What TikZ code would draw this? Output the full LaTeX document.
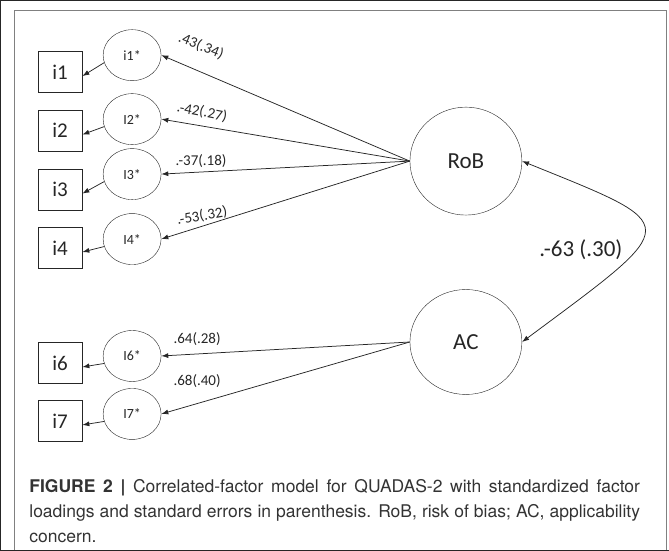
\documentclass[tikz,border=0pt]{standalone}
\usepackage{fontspec}
\setmainfont{Carlito}
\newfontfamily\capfont{TeX Gyre Heros}
\usetikzlibrary{arrows.meta,shapes.geometric}

\begin{document}
\begin{tikzpicture}[x=1pt,y=-1pt,
    item/.style={draw,minimum width=44pt,minimum height=41pt,inner sep=0pt,
      font=\fontsize{21}{21}\selectfont},
    resid/.style={draw,ellipse,minimum width=58pt,minimum height=51pt,inner sep=0pt,
      font=\fontsize{14}{14}\selectfont},
    factor/.style={draw,ellipse,minimum width=112pt,minimum height=108pt,inner sep=0pt,
      font=\fontsize{23}{23}\selectfont},
    load/.style={inner sep=0pt,font=\fontsize{15}{15}\selectfont},
    arr/.style={-{Latex[length=7pt,width=5pt]},line width=0.75pt},
    every node/.style={text=black!85},
    every path/.style={draw=black!85}
  ]
  \useasboundingbox (0,0) rectangle (669,550);
  \draw[black!50,line width=1pt] (14,550) -- (14,10) -- (667,10) -- (667,550);

  \node[factor] (rob) at (466,161) {RoB};
  \node[factor,minimum height=105pt] (ac) at (466,342) {AC};

  \node[resid] (e1) at (132,55) {i1*};
  \node[resid] (e2) at (132,119) {I2*};
  \node[resid] (e3) at (132,174) {I3*};
  \node[resid] (e4) at (132,239) {I4*};
  \node[resid] (e6) at (132,356) {I6*};
  \node[resid] (e7) at (132,414) {I7*};

  \node[item] (b1) at (60,72) {i1};
  \node[item] (b2) at (60,130.5) {i2};
  \node[item] (b3) at (60,189.5) {i3};
  \node[item] (b4) at (60,248) {i4};
  \node[item] (b6) at (60,363) {i6};
  \node[item] (b7) at (60,421) {i7};

  \foreach \n in {1,2,3,4,6,7}
    \draw[arr] (e\n.195) -- ([yshift=-4pt]b\n.east);
  \foreach \n in {1,2,3,4}
    \draw[arr] (rob.west) -- (e\n.east);
  \foreach \n in {6,7}
    \draw[arr] (ac.west) -- (e\n.east);
  \draw[{Latex[length=7pt,width=5pt]}-{Latex[length=7pt,width=5pt]},line width=0.75pt]
    (rob.east) .. controls (685,227) and (685,221) .. (ac.east);

  \node[load,rotate=-22] (l1) at (201,46) {.43(.34)};
  \node[load,rotate=-11] (l2) at (202,112) {.-42(.27)};
  \node[load] (l3) at (201,161) {.-37(.18)};
  \node[load,rotate=10] (l4) at (202,216) {.-53(.32)};
  \node[load] (l6) at (197,339) {.64(.28)};
  \node[load] (l7) at (197,381) {.68(.40)};
  \node[font=\fontsize{23}{23}\selectfont,inner sep=0pt] (lc) at (581,250) {.-63 (.30)};

  \node[anchor=north west,text width=611pt,align=justify,inner sep=0pt,text=black!80,
    font=\capfont\fontsize{17.5}{25}\selectfont] (cap) at (29,479)
    {\textbf{FIGURE 2 |} Correlated-factor model for QUADAS-2 with standardized factor\linebreak
     loadings and standard errors in parenthesis. RoB, risk of bias; AC, applicability\linebreak
     concern.};
\end{tikzpicture}
\end{document}
